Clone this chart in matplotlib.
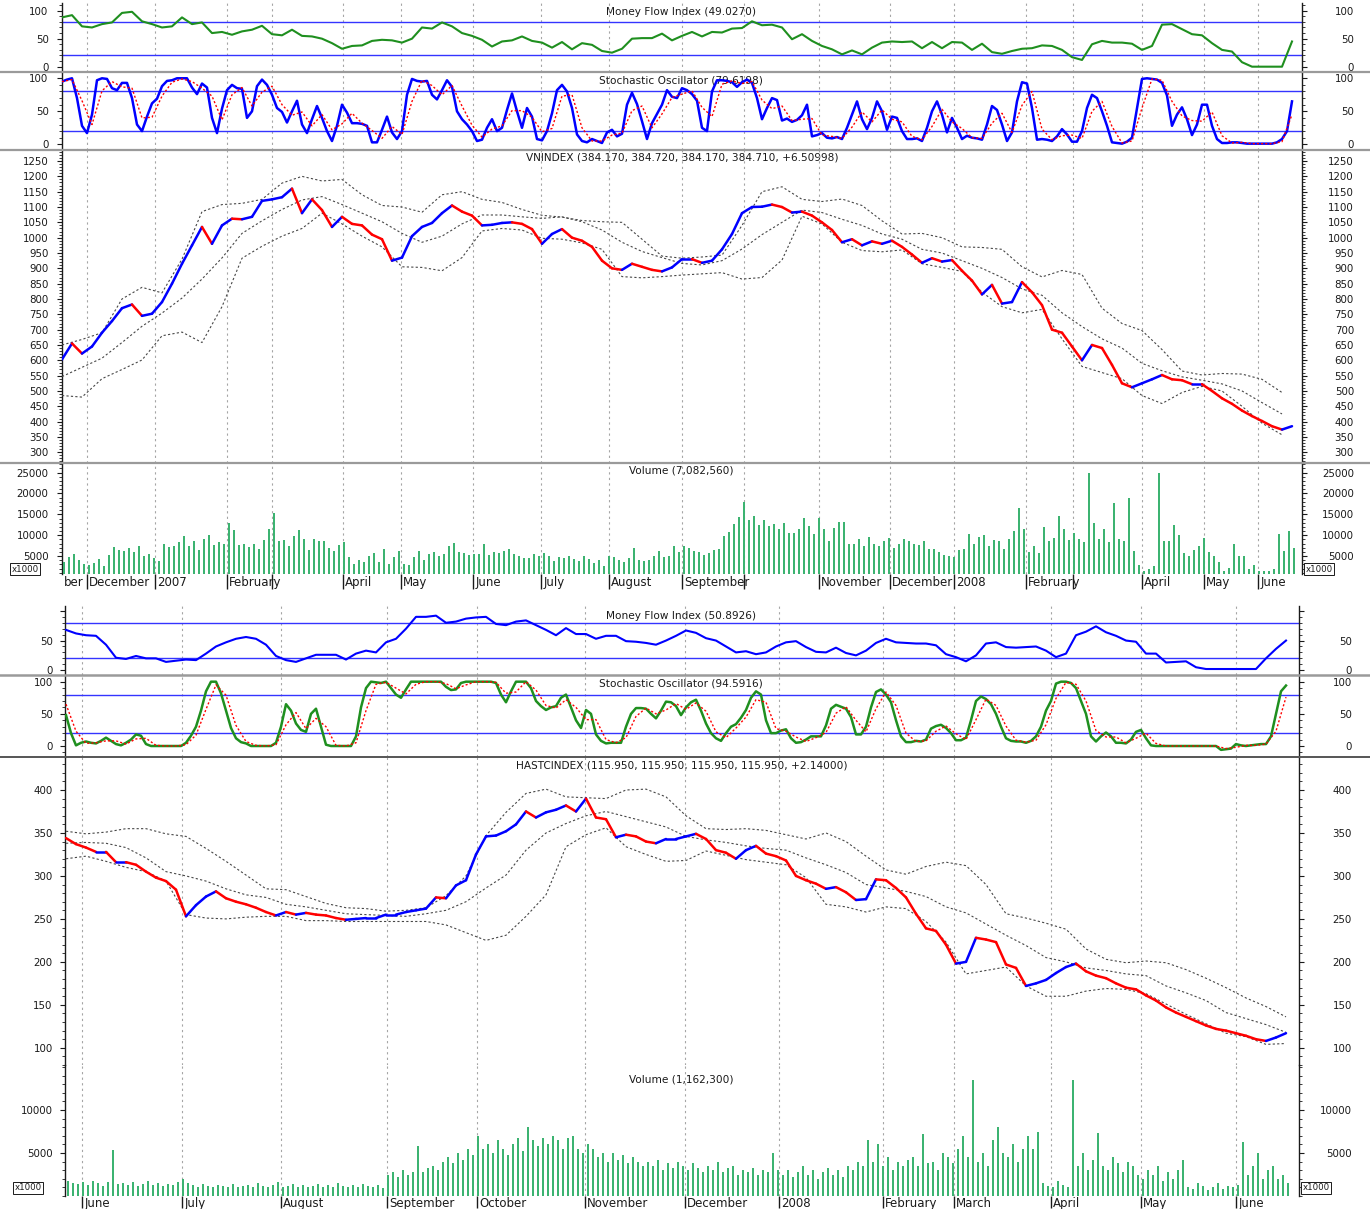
import numpy as np
import matplotlib
matplotlib.use("Agg")
import matplotlib.pyplot as plt
from matplotlib.collections import LineCollection
from matplotlib.lines import Line2D
from matplotlib.ticker import MultipleLocator

plt.rcParams['font.family'] = ['DejaVu Sans']

# ---------------- TOP CHART : VNINDEX (time unit = one 5-px slot) ----------------
top_months = [5.0, 18.6, 33.0, 42.0, 56.2, 67.8, 82.2, 95.8, 109.4, 124.0, 136.4,
              151.4, 165.6, 178.4, 192.8, 202.2, 216.0, 228.4, 239.2]
top_month_labels = ['December', '2007', 'February', '', 'April', 'May', 'June', 'July',
                    'August', 'September', '', 'November', 'December', '2008', 'February',
                    '', 'April', 'May', 'June']

vn_close = [603, 655, 622, 645, 690, 728, 770, 782, 745, 752, 790, 850, 915, 975, 1035, 980,
            1040, 1062, 1060, 1068, 1120, 1125, 1132, 1160, 1080, 1125, 1090, 1035, 1068, 1045,
            1040, 1010, 995, 925, 935, 1005, 1035, 1048, 1080, 1105,
            1085, 1072, 1040, 1042, 1048, 1050, 1045, 1028, 980, 1012, 1028, 1000, 990, 970, 925,
            900, 895, 915, 905, 895, 890, 903, 930, 930, 918, 925, 962, 1012, 1080, 1100, 1101,
            1108, 1100, 1082, 1085, 1072, 1050, 1025, 985, 995, 975, 988, 980, 990, 970,
            945, 918, 933, 922, 927, 892, 860, 815, 846, 785, 790, 855, 822, 780, 700, 690, 645,
            600, 650, 640, 585, 525, 512, 525, 538, 552, 538, 535, 522, 522, 500, 476, 458, 436,
            418, 402, 385, 374, 385]
vn_upper = [650, 668, 690, 800, 838, 820, 930, 1085, 1108, 1112, 1125, 1178, 1200, 1185, 1190,
            1140, 1105, 1100, 1083, 1140, 1150, 1125, 1115, 1092, 1073, 1067, 1056, 1052, 1050,
            995, 940, 933, 937, 943, 1040, 1150, 1166, 1125, 1118, 1126, 1105, 1055, 1012, 1014,
            1000, 970, 968, 962, 905, 872, 893, 880, 770, 720, 697, 635, 565, 552, 557, 555, 538,
            495]
vn_mid = [547, 577, 607, 658, 711, 754, 803, 865, 934, 1014, 1055, 1092, 1123, 1134, 1108, 1080,
          1052, 1014, 985, 1005, 1045, 1074, 1074, 1068, 1063, 1068, 1052, 1025, 985, 955, 935,
          916, 911, 925, 963, 1010, 1050, 1090, 1082, 1060, 1040, 1012, 995, 962, 950, 925, 900,
          870, 833, 812, 755, 710, 670, 640, 590, 566, 546, 535, 523, 500, 462, 425]
vn_lower = [485, 480, 540, 570, 601, 680, 692, 658, 775, 933, 972, 1005, 1030, 1080, 1045, 1005,
            970, 905, 903, 892, 935, 1022, 1030, 1025, 998, 995, 983, 962, 873, 869, 873, 878,
            882, 886, 865, 870, 927, 1070, 1045, 985, 958, 954, 960, 915, 903, 890, 822, 775, 755,
            766, 670, 580, 560, 540, 485, 459, 495, 515, 500, 450, 395, 357]
vn_mfi = [88, 92, 72, 70, 76, 79, 96, 98, 81, 76, 70, 72, 88, 76, 79, 60, 62, 57, 63, 66,
          73, 58, 56, 66, 55, 54, 50, 42, 32, 37, 38, 46, 48, 47, 43, 50, 70, 68, 79, 72,
          60, 55, 48, 36, 45, 47, 54, 46, 43, 34, 44, 31, 42, 39, 28, 25, 32, 50, 51, 51,
          59, 47, 55, 62, 54, 62, 61, 68, 69, 81, 74, 75, 70, 49, 58, 46, 37, 31, 22, 29,
          22, 34, 43, 45, 44,
          45, 33, 44, 33, 44, 43, 30, 41, 26, 23, 28, 32, 33, 38, 37, 30, 17, 12, 40, 46,
          43, 43, 41, 30, 37, 75, 76, 67, 58, 56, 42, 30, 27, 8, 0, 0, 0, 0, 45]
vn_k = [95, 98, 100, 70, 28, 17, 45, 97, 100, 99, 85, 82, 93, 93, 70, 30, 20, 42, 62, 69,
        88, 96, 97, 100, 100, 100, 86, 76, 92, 86, 40, 17, 54, 82, 90, 85, 84, 40, 50, 88,
        98, 90, 75, 55, 49, 33, 50, 66, 30, 17, 38, 58, 40, 20, 5, 28, 60, 48, 32, 32,
        31, 28, 3, 3, 22, 42, 18, 8, 20, 75, 99, 96, 95, 96, 75, 68, 82, 97, 87, 50,
        38, 30, 20, 5, 7, 25, 38, 20, 25, 52, 77, 50, 25, 55, 42, 8, 6, 20, 47, 82,
        90, 80, 55, 15, 5, 3, 8, 5, 2, 18, 22, 12, 16, 60, 78, 61, 35, 8, 32, 46,
        60, 82, 72, 70, 85, 82, 76, 66, 25, 20, 80, 97, 97, 96, 94, 87, 94, 98, 93, 70,
        38, 55, 70, 67, 36, 39, 34, 37, 44, 60, 12, 14, 17, 10, 9, 11, 8, 25, 45, 65,
        38, 23, 40, 65, 50, 22, 42, 40, 20, 8,
        8, 9, 5, 25, 50, 65, 45, 18, 40, 25, 8, 13, 10, 9, 7, 30, 58, 52, 30, 5,
        18, 65, 94, 92, 55, 7, 8, 7, 5, 12, 23, 15, 4, 4, 20, 55, 75, 70, 50, 28,
        3, 2, 1, 4, 10, 55, 99, 100, 99, 98, 93, 74, 28, 45, 56, 38, 14, 30, 60, 60,
        28, 8, 2, 2, 3, 3, 2, 1, 1, 1, 1, 1, 1, 3, 8, 20, 65]
vn_d = [95, 98, 66, 30, 81, 95, 87, 85, 40, 41, 73, 94, 99, 95, 85, 73, 37, 75, 86, 58,
        79, 88, 60, 44, 49, 28, 45, 22, 31, 47, 32, 21, 9, 27, 15, 65, 97, 89, 75, 89,
        58, 29, 11, 23, 28, 51, 51, 41, 19, 24, 73, 75, 25, 5, 5, 14, 17, 51, 58, 25,
        46, 71, 76, 81, 56, 42, 91, 96, 92, 95, 67, 54, 58, 36, 38, 39, 14, 12, 9, 26,
        49, 34, 52, 38, 34, 12, 7, 27, 53, 34, 24, 10, 9, 32, 47, 18, 59, 80, 23, 7,
        13, 14, 9, 50, 65, 27, 2, 5, 55, 99, 97, 65, 43, 36, 35, 49, 13, 2, 3, 1,
        1, 1, 4, 45]
vn_vol = [3500, 4700, 5500, 4000, 3000, 2900, 3300, 4200, 2600, 5300, 7200, 6500, 6200, 7000,
          6000, 7500, 5000, 5500, 4500, 3900, 8000, 7200, 7300, 8300, 9800, 7500, 8700, 6500,
          9000, 10000, 7700, 8300, 7800, 13000, 11300, 7700, 8000, 7200, 8000, 6800, 8800,
          11400, 15200, 8500, 8800, 7500, 9800, 11300, 9000, 6500, 9000, 8500, 8500, 7000,
          6200, 7600, 8400, 4800, 3000, 4000, 3500, 5000, 5800, 3500, 6600, 3000, 4700, 6100,
          3000, 2800, 4700, 6200, 4000, 5500, 6000, 5000, 5500, 7300, 8100, 6000, 5800, 5200,
          5500, 5600, 7800, 5300, 6000, 5800, 6300, 6600, 5500, 5000, 4500, 4600, 5500, 5000,
          5800, 5000, 3800, 4800, 4600, 5000, 4300, 3800, 4900, 4200, 3300, 4000, 2500, 5000,
          4800, 4000, 3500, 4500, 7000, 4000, 3800, 4000, 5000, 6300, 4800, 5000, 7300, 6000,
          7500, 7000, 6200, 6000, 5200, 5800, 6500, 6700, 9700, 10800, 12700, 14300, 18000,
          13700, 14600, 12500, 13600, 12300, 12800, 11500, 13000, 10500, 10500, 11500, 14200,
          12200, 10300, 14200, 11500, 8600, 11700, 13200, 13200, 8000, 7800, 9000, 7400, 9600,
          7800, 7400, 8500, 9400, 7000, 8000, 9000, 8500, 7800, 7600, 8500, 6800, 6800, 6000,
          5200, 5000, 4800, 6500, 6800, 10200, 8000, 9600, 10000, 7400, 8900, 8600, 6800, 9000,
          11000, 16500, 11500, 6000, 7300, 5800, 12000, 8700, 9300, 14500, 11400, 8800, 10500,
          9200, 8300, 24800, 13000, 9200, 11600, 8300, 17800, 9000, 8500, 18800, 6200, 2800,
          1500, 1800, 2500, 24800, 8500, 8500, 12500, 10000, 5800, 5000, 6500, 7500, 9300,
          6000, 5000, 3500, 1500, 2200, 8000, 5000, 5000, 2000, 2800, 1500, 1400, 1500, 1800,
          10200, 6300, 11000, 7000]

# ---------------- BOTTOM CHART : HASTCINDEX ----------------
bot_months = [3.4, 23.4, 43.2, 64.4, 82.4, 104.0, 124.0, 142.8, 163.6, 177.8, 197.2, 215.2, 234.2]
bot_month_labels = ['June', 'July', 'August', 'September', 'October', 'November', 'December',
                    '2008', 'February', 'March', 'April', 'May', 'June']

ha_close = [344, 337, 333, 328, 328, 316, 316, 313, 305, 298, 294, 284, 253, 266, 276, 282, 274,
            270, 267, 263, 258, 254, 258, 255, 257, 255, 254, 251, 249, 250, 251, 251, 255, 255,
            258, 260, 262, 275, 274, 289, 295, 325, 346, 347, 352, 360, 375, 368, 374, 377, 382,
            375, 390, 368, 366, 345, 348, 346, 340, 338, 343, 343,
            346, 349, 343, 330, 327, 320, 330, 335, 326, 323, 318, 300, 295, 291, 285, 287, 281,
            272, 273, 296, 295, 286, 275, 256, 239, 236, 220, 198, 200, 228, 226, 223, 197, 193,
            172, 175, 179, 187, 194, 198, 189, 184, 181, 175, 170, 168, 161, 155, 147, 141, 136,
            131, 126, 122, 120, 117, 114, 110, 108, 112, 117]
ha_upper = [352, 349, 351, 355, 355, 349, 346, 332, 317, 301, 285, 284, 276, 268, 263, 262, 259,
            260, 263, 277, 300, 347, 374, 396, 401, 392, 391, 390, 400, 401, 392, 370, 355, 354,
            355, 353, 348, 343, 350, 340, 323, 307, 302, 311, 316, 312, 290, 256, 251, 245, 238,
            215, 203, 199, 201, 199, 191, 181, 170, 158, 148, 136]
ha_mid = [338, 339, 338, 333, 321, 305, 300, 294, 285, 278, 275, 267, 264, 260, 256, 255, 254,
          253, 256, 260, 270, 286, 301, 330, 350, 361, 370, 375, 369, 363, 357, 346, 342, 339,
          335, 332, 330, 321, 313, 304, 290, 286, 282, 276, 264, 257, 244, 231, 219, 205, 200,
          193, 190, 186, 184, 172, 164, 155, 141, 134, 127, 118]
ha_lower = [320, 323, 317, 310, 305, 294, 255, 251, 250, 252, 253, 253, 248, 248, 247, 247, 247,
            247, 247, 243, 234, 225, 231, 253, 278, 334, 348, 356, 334, 325, 317, 318, 329, 324,
            319, 316, 313, 298, 267, 264, 258, 264, 262, 247, 223, 186, 190, 194, 172, 160, 160,
            166, 169, 168, 163, 151, 139, 128, 117, 113, 104, 105]
ha_mfi = [68, 62, 59, 58, 43, 21, 19, 24, 20, 20, 14, 16, 18, 17, 28, 40, 47, 53, 56, 53,
          43, 24, 17, 14, 20, 26, 26, 26, 18, 28, 33, 30, 47, 53, 70, 90, 90, 92, 80, 82,
          87, 89, 90, 78, 76, 82, 84, 76, 68, 59, 71, 61, 61, 53, 58, 58, 49, 48, 46, 43,
          50, 58,
          67, 63, 54, 50, 40, 30, 32, 27, 30, 40, 47, 49, 39, 31, 30, 38, 29, 25, 33, 46,
          53, 47, 46, 45, 45, 42, 27, 22, 15, 25, 45, 47, 39, 38, 39, 40, 33, 22, 28, 59,
          65, 74, 64, 58, 50, 48, 28, 28, 13, 14, 15, 5, 2, 2, 2, 2, 2, 2, 20, 36, 50]
ha_k = [48, 20, 1, 5, 7, 5, 4, 8, 13, 8, 3, 1, 5, 10, 18, 16, 3, 0, 0, 0,
        0, 0, 0, 0, 5, 16, 30, 55, 85, 100, 100, 82, 55, 28, 12, 6, 4, 0, 0, 0,
        0, 0, 5, 30, 65, 55, 35, 25, 22, 50, 58, 30, 2, 0, 0, 0, 0, 0, 15, 60,
        90, 100, 99, 98, 100, 90, 80, 75, 88, 100, 100, 100, 100, 100, 100, 100, 92, 87, 88, 98,
        100, 100, 100, 100, 100, 100, 98, 80, 68, 85, 100, 100, 100, 90, 70, 62, 56, 60, 62, 75,
        80, 60, 40, 28, 56, 50, 18, 8, 4, 5, 5, 5, 30, 50, 59, 59, 58, 50, 43, 55,
        69, 68, 62, 48, 60,
        68, 72, 55, 35, 20, 12, 8, 20, 30, 34, 44, 56, 75, 85, 80, 40, 20, 20, 24, 26,
        12, 5, 6, 10, 15, 15, 15, 32, 58, 64, 61, 58, 45, 18, 18, 30, 60, 84, 88, 80,
        68, 40, 15, 6, 6, 8, 7, 10, 27, 31, 33, 28, 20, 9, 9, 13, 40, 70, 77, 73,
        65, 50, 30, 12, 8, 7, 7, 5, 8, 15, 30, 55, 70, 97, 100, 100, 98, 90, 70, 50,
        15, 7, 15, 21, 15, 5, 5, 4, 10, 22, 25, 12, 1, 0, 0, 0, 0, 0, 0, 0,
        0, 0, 0, 0, 0, 0, -6, -5, -4, 3, 1, 0, 1, 2, 3, 3, 15, 50, 85, 94]
ha_d = [65, 23, 4, 5, 8, 8, 3, 11, 12, 1, 0, 0, 2, 17, 57, 95, 79, 32, 7, 1,
        0, 2, 33, 52, 27, 43, 30, 1, 0, 5, 55, 96, 99, 90, 81, 96, 100, 100, 97, 89,
        95, 100, 100, 99, 82, 84, 100, 87, 63, 59, 72, 60, 41, 41, 10, 5, 13, 46, 59, 50,
        56, 66, 57, 67, 54, 22, 13, 28, 45, 72, 68, 27, 23, 14, 7, 13, 21, 51, 61, 40,
        22, 58, 84, 63, 20, 7, 8, 23, 31, 19, 10, 41, 73, 63, 31, 9, 6, 9, 33, 74,
        99, 96, 70, 24, 14, 14, 5, 12, 20, 4, 0, 0, 0, 0, 0, 0, -4, -2, 1, 1,
        3, 23, 76]
ha_vol = [1800, 1500, 1400, 1600, 1300, 1700, 1500, 1200, 1600, 5300,
          1400, 1500, 1300, 1600, 1200, 1400, 1700, 1300, 1500, 1200, 1400, 1300, 1600,
          2000, 1500, 1300, 1100, 1400, 1200, 1000, 1300, 1200, 1100, 1400, 1000, 1200,
          1300, 1100, 1500, 1200, 1000, 1300, 1600, 1100, 1200, 1400, 1000, 1300, 1100,
          1200, 1400, 1000, 1300, 1100, 1500, 1200, 1000, 1300, 1100, 1400, 1200, 1000, 1300, 900,
          2500, 2800, 2200, 3000, 2400, 2800, 5800,
          2800, 3200, 3500, 3000, 4000, 4500, 3800, 5000, 4200, 5500, 4800, 7000,
          5500, 6000, 5000, 6500, 5500, 4800, 6000, 6800, 5200, 8000, 6500, 5800, 6800, 6000,
          7000, 6500, 5500, 6800, 7000, 5500,
          5000, 6000, 5500, 4500, 5000, 4000, 5000, 4200, 4800, 3800, 4500, 4000, 3500,
          4000, 3500, 4200, 3000, 3800, 3200, 4000, 3500, 3000, 3800, 3200, 2800, 3500, 3000,
          4000, 2800, 3200, 3500, 2500, 3000, 2800, 3200, 2500, 3000, 2800, 5000, 3000,
          2500, 3000, 2200, 2800, 3500, 2500, 3000, 2000, 2800, 3200, 2500, 3000, 2200, 3500,
          3000, 4000, 3500,
          6500, 4000, 6000, 3500, 4500, 3000, 4000, 3500, 4200,
          4500, 3500, 7200, 3800, 4000, 3000, 5000, 4500, 3800, 5500, 7000, 4500, 13500,
          4000, 5000, 3500, 6500, 8000, 5000, 4500, 6000, 4000, 5500, 7000, 5500, 7500,
          1500, 1200, 1000, 1800, 1300, 1000, 13500,
          3500, 5000, 3000, 4200, 7300, 3500, 3000, 4500, 3800, 2800, 4000, 3500, 2500,
          2000, 3000, 2500, 3500, 1800, 2800, 2000, 3000, 4200,
          1000, 800, 1500, 1200, 700, 1000, 1500, 800, 1200, 1000, 1300,
          6300, 2500, 3500, 5000, 2000, 3000, 3500, 2000, 2500, 1500]

# ---------------- styling ----------------
W, H = 1370, 1209
fig = plt.figure(figsize=(W / 100, H / 100), dpi=100)
fig.patch.set_facecolor('white')

RED, BLUE = '#ff0000', '#0000ff'
MFI_GREEN = '#1f8f1f'
STO_GREEN = '#1f8f1f'
VOL_GREEN = '#3cb371'
LEVEL_BLUE = '#3434ff'
BAND = '#474747'
GRID = '#a5a5a5'
TICK_FS = 7.4
TITLE_FS = 7.6
INK = '#1a1a1a'


def make_ax(box, xlim, ylim, months):
    px0, px1, py0, py1 = box
    ax = fig.add_axes([px0 / W, 1 - py1 / H, (px1 - px0) / W, (py1 - py0) / H])
    ax.set_xlim(xlim)
    ax.set_ylim(ylim)
    ax.set_xticks(months)
    ax.tick_params(axis='x', which='both', length=0, labelbottom=False)
    ax.grid(axis='x', color=GRID, linestyle=(0, (2, 3)), linewidth=0.8)
    ax.set_axisbelow(True)
    for s in ('top', 'bottom'):
        ax.spines[s].set_visible(False)
    for s in ('left', 'right'):
        ax.spines[s].set_color(INK)
        ax.spines[s].set_linewidth(1.0)
    ax.patch.set_visible(False)
    return ax


def yaxis(ax, major, minor, labels, lpad, rpad):
    ax.set_yticks(major, labels=labels)
    ax.yaxis.set_minor_locator(MultipleLocator(minor))
    ax.tick_params(axis='y', which='major', direction='out', length=3.6, width=0.8,
                   labelsize=TICK_FS, pad=lpad, colors=INK)
    ax.tick_params(axis='y', which='minor', direction='out', length=2.0, width=0.6, colors=INK)
    tw = ax.twinx()
    tw.set_ylim(ax.get_ylim())
    tw.set_yticks(major, labels=labels)
    tw.yaxis.set_minor_locator(MultipleLocator(minor))
    tw.tick_params(axis='y', which='major', direction='out', length=3.6, width=0.8,
                   labelsize=TICK_FS, pad=rpad, colors=INK)
    tw.tick_params(axis='y', which='minor', direction='out', length=2.0, width=0.6, colors=INK)
    for lab in tw.get_yticklabels():
        lab.set_horizontalalignment('right')
    for s in tw.spines.values():
        s.set_visible(False)
    return tw


def ptext(ax, box, px, py, s, **kw):
    px0, px1, py0, py1 = box
    ax.text((px - px0) / (px1 - px0), (py1 - py) / (py1 - py0), s, transform=ax.transAxes,
            ha='center', va='center', fontsize=TITLE_FS, color=INK, zorder=0, **kw)


def colored_price(ax, x, y):
    x = np.asarray(x, float)
    y = np.asarray(y, float)
    pts = np.column_stack([x, y])
    segs = np.stack([pts[:-1], pts[1:]], axis=1)
    cols = np.where(np.diff(y) < 0, RED, BLUE)
    lc = LineCollection(segs, colors=cols, linewidths=1.8, capstyle='round', zorder=4)
    ax.add_collection(lc)


def hsep(py, color='#9a9a9a', lw=1.6):
    fig.add_artist(Line2D([0, 1], [1 - py / H, 1 - py / H], transform=fig.transFigure,
                          color=color, linewidth=lw, zorder=10))


def strip(box, xlim, months, labels, first=None):
    px0, px1, py0, py1 = box
    ax = fig.add_axes([px0 / W, 1 - py1 / H, (px1 - px0) / W, (py1 - py0) / H])
    ax.set_xlim(xlim)
    ax.set_ylim(0, 1)
    ax.axis('off')
    ax.vlines(months, 0.05, 1, color=INK, linewidth=1.0)
    for m, lab in zip(months, labels):
        if lab:
            ax.text(m + 0.45, 0.45, lab, ha='left', va='center', fontsize=8.5, color=INK)
    if first:
        ax.text(0.3, 0.45, first, ha='left', va='center', fontsize=8.5, color=INK)
    return ax


def x1000(px, py):
    fig.text(px / W, 1 - py / H, 'x1000', ha='center', va='center', fontsize=6.2, color=INK,
             bbox=dict(boxstyle='square,pad=0.15', fc='white', ec=INK, lw=0.7))


# ======================= TOP CHART =======================
TX = (0, 248)
LP_T, RP_T = 6.0, 33.8
b_mfi_t = (62, 1302, 3, 72)
b_sto_t = (62, 1302, 72, 150)
b_px_t = (62, 1302, 150, 463)
b_vol_t = (62, 1302, 463, 574)

x2 = 2 * np.arange(len(vn_close))
xb = 4 * np.arange(len(vn_upper))

ax = make_ax(b_mfi_t, TX, (-9.5, 113.7), top_months)
yaxis(ax, [0, 50, 100], 10, ['0', '50', '100'], LP_T, RP_T)
ax.axhline(80, color=LEVEL_BLUE, lw=1.0, zorder=2)
ax.axhline(20, color=LEVEL_BLUE, lw=1.0, zorder=2)
ax.plot(2 * np.arange(len(vn_mfi)), vn_mfi, color=MFI_GREEN, lw=1.5, zorder=4)
ptext(ax, b_mfi_t, 681, 12, 'Money Flow Index (49.0270)')

ax = make_ax(b_sto_t, TX, (-8.6, 109.5), top_months)
yaxis(ax, [0, 50, 100], 10, ['0', '50', '100'], LP_T, RP_T)
ax.axhline(80, color=LEVEL_BLUE, lw=1.0, zorder=2)
ax.axhline(20, color=LEVEL_BLUE, lw=1.0, zorder=2)
ax.plot(np.arange(len(vn_k)), vn_k, color=BLUE, lw=1.8, zorder=4)
ax.plot(2 * np.arange(len(vn_d)), vn_d, color=RED, lw=1.0, ls=(0, (1.5, 1.5)), zorder=5)
ptext(ax, b_sto_t, 681, 80, 'Stochastic Oscillator (79.6198)')

ax = make_ax(b_px_t, TX, (265, 1286), top_months)
yaxis(ax, list(range(300, 1251, 50)), 10, [str(v) for v in range(300, 1251, 50)], LP_T, RP_T)
for band in (vn_upper, vn_mid, vn_lower):
    ax.plot(xb, band, color=BAND, lw=0.8, ls=(0, (2, 2)), zorder=3)
colored_price(ax, x2, vn_close)
ptext(ax, b_px_t, 682, 157, 'VNINDEX (384.170, 384.720, 384.170, 384.710, +6.50998)')

VB_T = 700
ax = make_ax(b_vol_t, TX, (VB_T, 27300), top_months)
yaxis(ax, [5000, 10000, 15000, 20000, 25000], 1000,
      ['5000', '10000', '15000', '20000', '25000'], LP_T, RP_T)
vv = np.asarray(vn_vol, float)
ax.bar(0.4 + np.arange(len(vv)), vv - VB_T, bottom=VB_T, width=0.58, color=VOL_GREEN,
       linewidth=0, zorder=3)
ptext(ax, b_vol_t, 681, 470, 'Volume (7,082,560)')

strip((62, 1302, 574, 590), TX, top_months, top_month_labels, first='ber')
x1000(25, 569)
x1000(1319, 569)

hsep(72)
hsep(150)
hsep(463)

# ======================= BOTTOM CHART =======================
BX = (0, 246.8)
LP_B, RP_B = 5.2, 34.5
b_mfi_b = (65, 1299, 606, 675)
b_sto_b = (65, 1299, 675, 757)
b_px_b = (65, 1299, 757, 1065)
b_vol_b = (65, 1299, 1065, 1196)

ax = make_ax(b_mfi_b, BX, (-8.1, 108.3), bot_months)
yaxis(ax, [0, 50, 100], 10, ['0', '50', ''], LP_B, RP_B)
ax.axhline(80, color=LEVEL_BLUE, lw=1.0, zorder=2)
ax.axhline(20, color=LEVEL_BLUE, lw=1.0, zorder=2)
ax.plot(0.2 + 2 * np.arange(len(ha_mfi)), ha_mfi, color=BLUE, lw=1.5, zorder=4)
ptext(ax, b_mfi_b, 681, 616, 'Money Flow Index (50.8926)')

ax = make_ax(b_sto_b, BX, (-17.1, 110.4), bot_months)
yaxis(ax, [0, 50, 100], 10, ['0', '50', '100'], LP_B, RP_B)
ax.axhline(80, color=LEVEL_BLUE, lw=1.0, zorder=2)
ax.axhline(20, color=LEVEL_BLUE, lw=1.0, zorder=2)
ax.plot(0.2 + np.arange(len(ha_k)), ha_k, color=STO_GREEN, lw=1.8, zorder=4)
ax.plot(0.2 + 2 * np.arange(len(ha_d)), ha_d, color=RED, lw=1.0, ls=(0, (1.5, 1.5)), zorder=5)
ptext(ax, b_sto_b, 681, 683, 'Stochastic Oscillator (94.5916)')

ax = make_ax(b_px_b, BX, (80, 438.4), bot_months)
yaxis(ax, list(range(100, 401, 50)), 10, [str(v) for v in range(100, 401, 50)], LP_B, RP_B)
xbb = 0.2 + 4 * np.arange(len(ha_upper))
for band in (ha_upper, ha_mid, ha_lower):
    ax.plot(xbb, band, color=BAND, lw=0.8, ls=(0, (2, 2)), zorder=3)
colored_price(ax, 0.2 + 2 * np.arange(len(ha_close)), ha_close)
ptext(ax, b_px_b, 682, 765, 'HASTCINDEX (115.950, 115.950, 115.950, 115.950, +2.14000)')

ax = make_ax(b_vol_b, BX, (0, 15233), bot_months)
yaxis(ax, [5000, 10000], 1000, ['5000', '10000'], LP_B, RP_B)
ax.bar(0.6 + np.arange(len(ha_vol)), ha_vol, width=0.58, color=VOL_GREEN, linewidth=0, zorder=3)
ptext(ax, b_vol_b, 681, 1080, 'Volume (1,162,300)')

strip((65, 1299, 1196, 1209), BX, bot_months, bot_month_labels)
x1000(28, 1188)
x1000(1316, 1188)

hsep(675, color='#9a9a9a', lw=1.8)
hsep(757, color='#555555', lw=1.4)

fig.savefig('out.png', dpi=100, facecolor='white')
